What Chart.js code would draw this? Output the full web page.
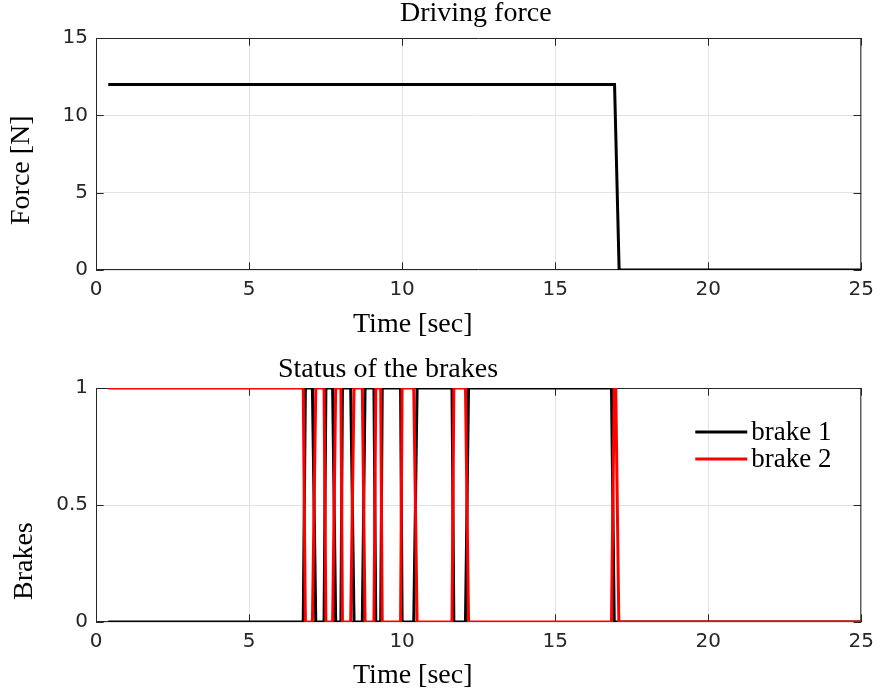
<!DOCTYPE html>
<html>
<head>
<meta charset="utf-8">
<script src="https://cdn.jsdelivr.net/npm/chart.js@4.4.0/dist/chart.umd.min.js"></script>
<style>
    body { margin: 0; background: #fff; }
    #wrap { position: relative; width: 882px; height: 694px; }
    .box { position: absolute; left: 0; width: 882px; height: 347px; }
</style>
</head>
<body>
<div id="wrap">
    <div class="box" style="top:0"><canvas id="forceChart"></canvas></div>
    <div class="box" style="top:347px"><canvas id="brakeChart"></canvas></div>
</div>
<script>
// Driving force: time [sec] -> force [N]
const forceTime  = [0.4, 16.94, 17.09, 25];
const forceValue = [12, 12, 0, 0];

// Brake status
const brake1Time  = [0.4, 6.77, 6.84, 7.07, 7.18, 7.45, 7.51, 7.73, 7.83, 8.00, 8.05, 8.32, 8.43, 8.70, 8.79, 9.08, 9.14, 9.30, 9.35, 9.95, 10.00, 10.38, 10.49, 11.63, 11.69, 12.07, 12.17, 16.84, 16.93, 25];
const brake1Value = [0, 0, 1, 1, 0, 0, 1, 1, 0, 0, 1, 1, 0, 0, 1, 1, 0, 0, 1, 1, 0, 0, 1, 1, 0, 0, 1, 1, 0, 0];
const brake2Time  = [0.4, 6.77, 6.84, 7.07, 7.18, 7.45, 7.51, 7.73, 7.83, 8.00, 8.05, 8.32, 8.43, 8.70, 8.79, 9.08, 9.14, 9.30, 9.35, 9.95, 10.00, 10.38, 10.49, 11.63, 11.69, 12.07, 12.17, 16.84, 16.93, 16.98, 17.08, 25];
const brake2Value = [1, 1, 0, 0, 1, 1, 0, 0, 1, 1, 0, 0, 1, 1, 0, 0, 1, 1, 0, 0, 1, 1, 0, 0, 1, 1, 0, 0, 1, 1, 0, 0];

const timeTicks = [0, 5, 10, 15, 20, 25];

const AXIS_COLOR = '#262626';
const GRID_COLOR = '#e3e3e3';
const SERIF = '"Liberation Serif", "Times New Roman", serif';
const SANS = '"DejaVu Sans", sans-serif';
const LABEL_SIZE = 28;

function toPoints(times, values) {
    return times.map((t, i) => ({ x: t, y: values[i] }));
}

// MATLAB-like box with inward ticks on all four sides
const axesBox = {
    id: 'axesBox',
    beforeDatasetsDraw(chart) {
        const { ctx, chartArea: a, scales: { x, y } } = chart;
        const len = 7.7;
        ctx.save();
        ctx.strokeStyle = AXIS_COLOR;
        ctx.lineWidth = 1;
        ctx.beginPath();
        ctx.rect(a.left + 0.5, a.top + 0.5, a.width - 1, a.height - 1);
        x.ticks.forEach(t => {
            const px = Math.round(x.getPixelForValue(t.value)) + 0.5;
            ctx.moveTo(px, a.bottom); ctx.lineTo(px, a.bottom - len);
            ctx.moveTo(px, a.top); ctx.lineTo(px, a.top + len);
        });
        y.ticks.forEach(t => {
            const py = Math.round(y.getPixelForValue(t.value)) + 0.5;
            ctx.moveTo(a.left, py); ctx.lineTo(a.left + len, py);
            ctx.moveTo(a.right, py); ctx.lineTo(a.right - len, py);
        });
        ctx.stroke();
        ctx.restore();
    }
};

// Title and axis labels, left-anchored like the exported figure
const axisTexts = {
    id: 'axisTexts',
    afterDraw(chart, args, o) {
        const { ctx, chartArea: a } = chart;
        ctx.save();
        ctx.fillStyle = '#000';
        ctx.font = `${LABEL_SIZE}px ${SERIF}`;
        ctx.textAlign = 'left';
        ctx.textBaseline = 'middle';
        ctx.fillText(o.title, a.left + o.titleDx, o.titleY);
        ctx.fillText(o.xLabel, a.left + o.xLabelDx, o.xLabelY);
        ctx.translate(o.yLabelX, a.top + o.yLabelDy);
        ctx.rotate(-Math.PI / 2);
        ctx.fillText(o.yLabel, 0, 0);
        ctx.restore();
    }
};

// Legend inside the plot, no frame
const innerLegend = {
    id: 'innerLegend',
    afterDatasetsDraw(chart, args, opts) {
        if (!opts.show) return;
        const { ctx, chartArea: a } = chart;
        ctx.save();
        ctx.font = `27px ${SERIF}`;
        ctx.textBaseline = 'middle';
        chart.data.datasets.forEach((ds, i) => {
            const yy = a.top + 44 + i * 27;
            ctx.strokeStyle = ds.borderColor;
            ctx.lineWidth = 3;
            ctx.beginPath();
            ctx.moveTo(a.right - 166, yy);
            ctx.lineTo(a.right - 114, yy);
            ctx.stroke();
            ctx.fillStyle = '#000';
            ctx.fillText(ds.label, a.right - 110, yy + 1);
        });
        ctx.restore();
    }
};

function makeOptions(cfg) {
    return {
        responsive: true,
        maintainAspectRatio: false,
        animation: false,
        layout: { padding: { top: cfg.padTop, right: 18, left: 0, bottom: 0 } },
        plugins: {
            legend: { display: false },
            tooltip: { enabled: false },
            axisTexts: cfg.texts,
            innerLegend: { show: !!cfg.legend }
        },
        scales: {
            x: {
                type: 'linear',
                min: 0,
                max: 25,
                afterBuildTicks: scale => { scale.ticks = timeTicks.map(v => ({ value: v })); },
                afterFit: scale => { scale.height = cfg.xHeight; },
                ticks: { color: AXIS_COLOR, font: { family: SANS, size: 20 }, padding: 8, maxRotation: 0,
                         callback: v => String(v) },
                grid: { color: GRID_COLOR, drawTicks: false },
                border: { display: false }
            },
            y: {
                min: cfg.yMin,
                max: cfg.yMax,
                afterBuildTicks: scale => { scale.ticks = cfg.yTicks.map(v => ({ value: v })); },
                afterFit: scale => { scale.width = 96; },
                ticks: { color: AXIS_COLOR, font: { family: SANS, size: 20 }, padding: 8,
                         callback: v => String(v) },
                grid: { color: GRID_COLOR, drawTicks: false },
                border: { display: false }
            }
        }
    };
}

new Chart(document.getElementById('forceChart'), {
    type: 'scatter',
    data: {
        datasets: [{
            label: 'force',
            data: toPoints(forceTime, forceValue),
            showLine: true,
            borderColor: '#000',
            borderWidth: 3,
            pointRadius: 0,
            tension: 0
        }]
    },
    options: makeOptions({
        padTop: 38, xHeight: 77,
        yMin: 0, yMax: 15, yTicks: [0, 5, 10, 15],
        texts: {
            title: 'Driving force', titleDx: 304, titleY: 14,
            xLabel: 'Time [sec]', xLabelDx: 257, xLabelY: 325,
            yLabel: 'Force [N]', yLabelX: 22, yLabelDy: 187
        }
    }),
    plugins: [axesBox, axisTexts, innerLegend]
});

new Chart(document.getElementById('brakeChart'), {
    type: 'scatter',
    data: {
        datasets: [{
            label: 'brake 1',
            data: toPoints(brake1Time, brake1Value),
            showLine: true,
            borderColor: '#000',
            borderWidth: 3,
            pointRadius: 0,
            tension: 0,
            order: 1
        }, {
            label: 'brake 2',
            data: toPoints(brake2Time, brake2Value),
            showLine: true,
            borderColor: '#ff0000',
            borderWidth: 3,
            pointRadius: 0,
            tension: 0,
            order: 0
        }]
    },
    options: makeOptions({
        padTop: 41, xHeight: 72,
        yMin: 0, yMax: 1, yTicks: [0, 0.5, 1], legend: true,
        texts: {
            title: 'Status of the brakes', titleDx: 182, titleY: 23,
            xLabel: 'Time [sec]', xLabelDx: 257, xLabelY: 329,
            yLabel: 'Brakes', yLabelX: 25, yLabelDy: 212
        }
    }),
    plugins: [axesBox, axisTexts, innerLegend]
});
</script>
</body>
</html>
